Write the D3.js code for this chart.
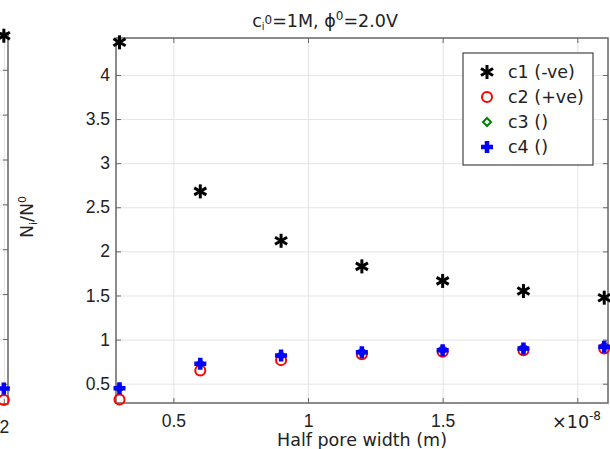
<!DOCTYPE html>
<html>
<head>
<meta charset="utf-8">
<script src="https://cdn.jsdelivr.net/npm/d3@7"></script>
<style>
  body { margin: 0; background: #fff; }
  svg { display: block; font-family: "DejaVu Sans", sans-serif; }
  .tick text { font-size: 17.5px; fill: #222; }
  .grid line { stroke: #e4e4e4; }
  .grid path { display: none; }
</style>
</head>
<body>
<div id="chart"></div>
<script>
// half pore width (m) and normalised concentrations
var halfWidth = [3e-9, 6e-9, 9e-9, 1.2e-8, 1.5e-8, 1.8e-8, 2.1e-8];
var c1 = [4.37, 2.68, 2.12, 1.83, 1.665, 1.55, 1.475];
var c2 = [0.32, 0.65, 0.767, 0.835, 0.862, 0.88, 0.90];
var c3 = [0.447, 0.727, 0.82, 0.855, 0.88, 0.90, 0.92];
var c4 = [0.447, 0.727, 0.82, 0.855, 0.88, 0.90, 0.92];
var seriesNames = ["c1 (-ve)", "c2 (+ve)", "c3 ()", "c4 ()"];

var xTicks = [0.5e-8, 1e-8, 1.5e-8, 2e-8];
var xTickLabels = ["0.5", "1", "1.5", ""];
var yTicks = [0.5, 1, 1.5, 2, 2.5, 3, 3.5, 4];

// left, cut-off panel (only its right edge is visible)
var leftX = [2e-8];
var leftC1 = [4.38];
var leftC2 = [0.32];
var leftC4 = [0.447];

var svgWidth = 610;
var svgHeight = 449;
var fs = "17.5px";

var svg = d3.select("#chart")
    .append("svg")
    .attr("width", svgWidth)
    .attr("height", svgHeight);

var axisColor = "#666";

// marker drawers
function star(g, x, y) {
    var r = 7;
    [90, 30, -30].forEach(function(a) {
        var t = a * Math.PI / 180;
        g.append("line")
            .attr("x1", x - r * Math.cos(t)).attr("y1", y - r * Math.sin(t))
            .attr("x2", x + r * Math.cos(t)).attr("y2", y + r * Math.sin(t))
            .attr("stroke", "#000").attr("stroke-width", 3);
    });
}
function ring(g, x, y) {
    g.append("circle").attr("cx", x).attr("cy", y).attr("r", 5)
        .attr("fill", "none").attr("stroke", "red").attr("stroke-width", 2);
}
function diamond(g, x, y) {
    var r = 4;
    g.append("path")
        .attr("d", `M${x},${y - r}L${x + r},${y}L${x},${y + r}L${x - r},${y}Z`)
        .attr("fill", "none").attr("stroke", "green").attr("stroke-width", 2);
}
function plus(g, x, y) {
    var r = 6;
    g.append("path")
        .attr("d", `M${x - r},${y}H${x + r}M${x},${y - r}V${y + r}`)
        .attr("stroke", "blue").attr("stroke-width", 4.5);
}

function styleAxis(a) {
    a.selectAll("line").attr("stroke", axisColor);
    a.select(".domain").remove();
}

function grid(g, x, y, x0, x1, y0, y1) {
    g.append("g").attr("class", "grid")
        .attr("transform", `translate(0,${y1})`)
        .call(d3.axisBottom(x).tickValues(xTicks).tickSize(-(y1 - y0)).tickFormat(""));
    g.append("g").attr("class", "grid")
        .attr("transform", `translate(${x0},0)`)
        .call(d3.axisLeft(y).tickValues(yTicks).tickSize(-(x1 - x0)).tickFormat(""));
}

// ---------- left cut-off panel ----------
var lx = d3.scaleLinear().domain([1.6e-8, 2.015e-8]).range([-107, 8]);
var ly = d3.scaleLinear().domain([0.275, 4.41]).range([404, 33]);
var lp = svg.append("g");
grid(lp, lx, ly, -107, 8, 33, 404);
lp.append("g")
    .attr("transform", "translate(8,0)")
    .call(d3.axisRight(ly).tickValues(yTicks).tickSizeInner(-5).tickSizeOuter(0).tickFormat(""))
    .call(styleAxis);
lp.append("g")
    .attr("transform", "translate(0,404)")
    .call(d3.axisBottom(lx).tickValues([2e-8]).tickSizeInner(-5).tickSizeOuter(0).tickPadding(17)
        .tickFormat(function() { return "2"; }))
    .call(styleAxis);
lp.append("path")
    .attr("d", "M-107,33H8V404H-107")
    .attr("fill", "none").attr("stroke", axisColor).attr("stroke-width", 1.5);
leftX.forEach(function(v, i) {
    ring(lp, lx(v), ly(leftC2[i]));
    plus(lp, lx(v), ly(leftC4[i]));
    star(lp, lx(v), ly(leftC1[i]));
});

// ---------- main panel ----------
var pL = 116, pR = 608, pT = 38, pB = 403;
var x = d3.scaleLinear().domain([2.87e-9, 2.114e-8]).range([pL, pR]);
var y = d3.scaleLinear().domain([0.281, 4.419]).range([pB, pT]);

var chart = svg.append("g");
grid(chart, x, y, pL, pR, pT, pB);

chart.append("g")
    .attr("transform", `translate(0,${pB})`)
    .call(d3.axisBottom(x).tickValues(xTicks).tickSizeInner(-5).tickSizeOuter(0).tickPadding(12)
        .tickFormat(function(d, i) { return xTickLabels[i]; }))
    .call(styleAxis);
chart.append("g")
    .attr("transform", `translate(0,${pT})`)
    .call(d3.axisTop(x).tickValues(xTicks).tickSizeInner(-5).tickSizeOuter(0).tickFormat(""))
    .call(styleAxis);
chart.append("g")
    .attr("transform", `translate(${pL},0)`)
    .call(d3.axisLeft(y).tickValues(yTicks).tickSizeInner(-5).tickSizeOuter(0).tickPadding(6)
        .tickFormat(d3.format("~g")))
    .call(styleAxis);
chart.append("g")
    .attr("transform", `translate(${pR},0)`)
    .call(d3.axisRight(y).tickValues(yTicks).tickSizeInner(-5).tickSizeOuter(0).tickFormat(""))
    .call(styleAxis);

chart.append("rect")
    .attr("x", pL).attr("y", pT)
    .attr("width", pR - pL).attr("height", pB - pT)
    .attr("fill", "none").attr("stroke", axisColor).attr("stroke-width", 1.5);

// points
halfWidth.forEach(function(v, i) {
    ring(chart, x(v), y(c2[i]));
    diamond(chart, x(v), y(c3[i]));
    plus(chart, x(v), y(c4[i]));
    star(chart, x(v), y(c1[i]));
});

// exponent label
var expo = chart.append("text")
    .attr("x", 601).attr("y", 428)
    .attr("text-anchor", "end")
    .style("font-size", fs).attr("fill", "#222");
expo.append("tspan").text("\u00d710");
expo.append("tspan").attr("dy", -8).style("font-size", "12px").text("-8");

// axis titles
svg.append("text")
    .attr("x", 362).attr("y", 446)
    .attr("text-anchor", "middle")
    .style("font-size", fs).attr("fill", "#222")
    .text("Half pore width (m)");

var yl = svg.append("text")
    .attr("transform", "translate(33,217) rotate(-90)")
    .attr("text-anchor", "middle")
    .style("font-size", fs).attr("fill", "#222");
yl.append("tspan").text("N");
yl.append("tspan").attr("dy", 4).style("font-size", "11px").text("i");
yl.append("tspan").attr("dy", -4).text("/N");
yl.append("tspan").attr("dy", -7).style("font-size", "11px").text("0");

var title = svg.append("text")
    .attr("x", 325).attr("y", 27)
    .attr("text-anchor", "middle")
    .style("font-size", fs).attr("fill", "#222");
title.append("tspan").text("c");
title.append("tspan").attr("dy", 3).style("font-size", "10px").text("i");
title.append("tspan").attr("dy", -6).style("font-size", "12px").text("0");
title.append("tspan").attr("dy", 3).text("=1M, \u03d5");
title.append("tspan").attr("dy", -7).style("font-size", "12px").text("0");
title.append("tspan").attr("dy", 7).text("=2.0V");

// legend
var legend = svg.append("g");
legend.append("rect")
    .attr("x", 463).attr("y", 53).attr("width", 130).attr("height", 112)
    .attr("fill", "#fff").attr("stroke", "#444").attr("stroke-width", 1.2);
var legendY = d3.scalePoint().domain(seriesNames).range([72, 147]);
var drawers = [star, ring, diamond, plus];
seriesNames.forEach(function(name, i) {
    drawers[i](legend, 487, legendY(name));
    legend.append("text")
        .attr("x", 508).attr("y", legendY(name)).attr("dy", "0.35em")
        .style("font-size", fs).attr("fill", "#222")
        .text(name);
});
</script>
</body>
</html>
